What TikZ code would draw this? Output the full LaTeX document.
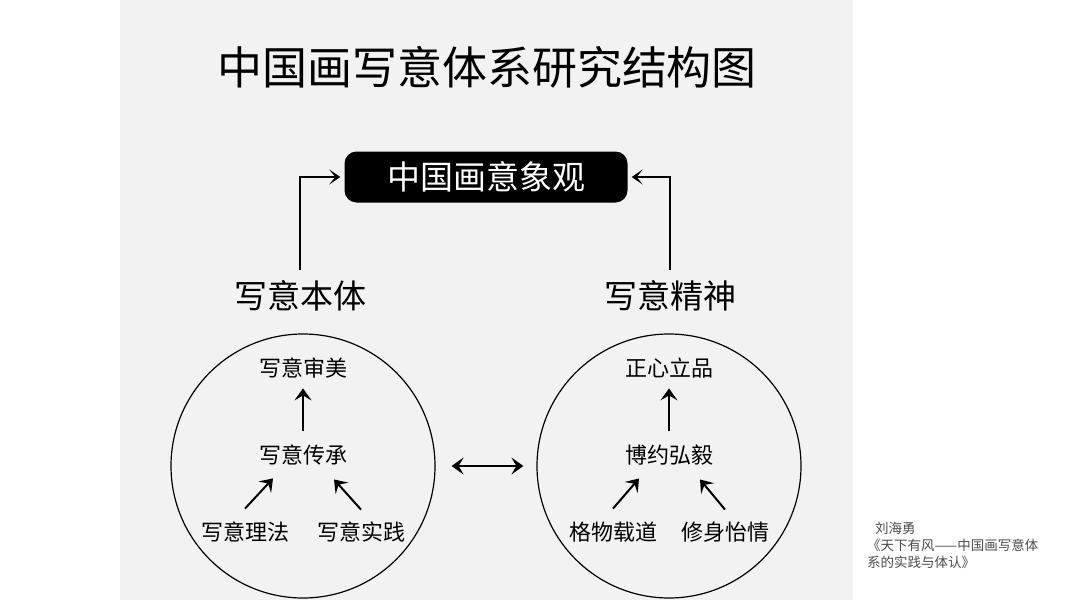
\documentclass[tikz,border=0pt]{standalone}
\usepackage{fontspec}
\usetikzlibrary{arrows.meta}
\setmainfont{Noto Sans CJK SC}
\tikzset{
  lbl/.style={inner sep=0pt,font=\fontsize{22}{24}\selectfont},
  head/.style={inner sep=0pt,font=\fontsize{33}{36}\selectfont},
  ring/.style={draw,circle,line width=1.2pt,minimum size=264pt,inner sep=0pt},
  arr/.style={-{Stealth[length=12pt,width=17pt,inset=5pt]},line width=2pt},
  link/.style={-{Stealth[length=11pt,width=15pt,inset=6pt]},line width=1.8pt}
}
\begin{document}
\begin{tikzpicture}[x=1pt,y=-1pt]
\useasboundingbox (0,0) rectangle (1080,608);
\fill[white] (0,0) rectangle (1080,608);
\fill[black!5] (120,0) rectangle (853,600);
\node (t) at (487,67) {\fontsize{45}{50}\selectfont 中国画写意体系研究结构图};
\node[fill=black,text=white,rounded corners=12pt,minimum width=283pt,minimum height=51pt,inner sep=0pt,font=\fontsize{33}{36}\selectfont] (top) at (486,177) {中国画意象观};
\node[head] (bt) at (300,296) {写意本体};
\draw[link,shorten <=10pt,shorten >=4pt] (bt) |- (top);
\node[head] (js) at (670,296) {写意精神};
\draw[link,shorten <=10pt,shorten >=4pt] (js) |- (top);
\node[ring] (lc) at (303,466) {};
\node[lbl] (la) at (303,368) {写意审美};
\node[lbl] (lm) at (303,455) {写意传承};
\draw[arr,shorten <=14pt,shorten >=10pt] (lm) -- (la);
\node[lbl] (lf) at (245,532) {写意理法};
\draw[arr] ([yshift=13pt]lf.north) -- ([xshift=-30pt,yshift=-13pt]lm.south);
\node[lbl] (lp) at (361,532) {写意实践};
\draw[arr] ([yshift=12pt]lp.north) -- ([xshift=31pt,yshift=-14pt]lm.south);
\node[ring] (rc) at (669,466) {};
\node[lbl] (ra) at (669,368) {正心立品};
\node[lbl] (rm) at (669,455) {博约弘毅};
\draw[arr,shorten <=14pt,shorten >=10pt] (rm) -- (ra);
\node[lbl] (rf) at (613,532) {格物载道};
\draw[arr] ([yshift=13pt]rf.north) -- ([xshift=-30pt,yshift=-13pt]rm.south);
\node[lbl] (rp) at (725,532) {修身怡情};
\draw[arr] ([yshift=12pt]rp.north) -- ([xshift=31pt,yshift=-14pt]rm.south);
\draw[{Stealth[length=12pt,width=17pt,inset=5pt]}-{Stealth[length=12pt,width=17pt,inset=5pt]},line width=2pt,shorten <=16pt,shorten >=13pt] (lc) -- (rc);
\node[anchor=west,inner sep=0pt,text=black!70,font=\fontsize{13.5}{15}\selectfont] (c1) at (875,528) {刘海勇};
\node[anchor=west,inner sep=0pt,text=black!70,font=\fontsize{13.5}{15}\selectfont] (c2) at (867,545) {《天下有风——中国画写意体};
\node[anchor=west,inner sep=0pt,text=black!70,font=\fontsize{13.5}{15}\selectfont] (c3) at (867,562) {系的实践与体认》};
\end{tikzpicture}
\end{document}
